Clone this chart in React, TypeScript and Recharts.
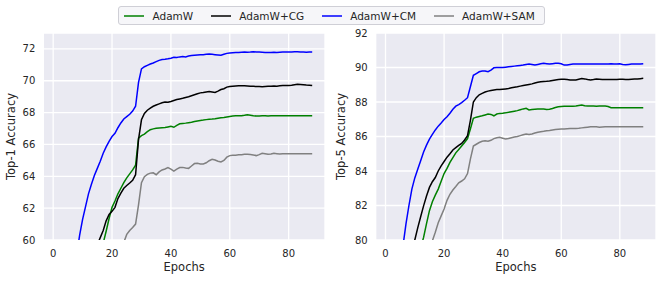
import { LineChart, Line, XAxis, YAxis, CartesianGrid } from "recharts";

const epochs = [
  1, 2, 3, 4, 5, 6, 7, 8, 9, 10, 11, 12, 13, 14, 15, 16, 17, 18, 19, 20,
  21, 22, 23, 24, 25, 26, 27, 28, 29, 30, 31, 32, 33, 34, 35, 36, 37, 38, 39, 40,
  41, 42, 43, 44, 45, 46, 47, 48, 49, 50, 51, 52, 53, 54, 55, 56, 57, 58, 59, 60,
  61, 62, 63, 64, 65, 66, 67, 68, 69, 70, 71, 72, 73, 74, 75, 76, 77, 78, 79, 80,
  81, 82, 83, 84, 85, 86, 87, 88,
];

// top-1 accuracy (left panel)
const top1AdamW = [
  40.0, 43.5, 46.2, 48.5, 50.4, 51.8, 52.9, 53.8, 54.7, 55.5,
  56.3, 57.0, 57.7, 58.3, 58.85, 59.35, 59.8, 60.55, 61.35, 62.05,
  62.45, 62.9, 63.25, 63.6, 63.9, 64.15, 64.4, 64.7, 66.4, 66.55,
  66.65, 66.8, 66.93, 66.98, 67.02, 67.04, 67.05, 67.06, 67.1, 67.14,
  67.08, 67.2, 67.3, 67.32, 67.34, 67.37, 67.4, 67.44, 67.48, 67.51,
  67.53, 67.56, 67.59, 67.6, 67.62, 67.65, 67.68, 67.7, 67.73, 67.76,
  67.78, 67.8, 67.8, 67.81, 67.83, 67.86, 67.84, 67.8, 67.78, 67.79,
  67.8, 67.8, 67.79, 67.8, 67.81, 67.8, 67.8, 67.81, 67.8, 67.8,
  67.8, 67.81, 67.8, 67.8, 67.8, 67.8, 67.8, 67.8,
];
const top1CG = [
  42.0, 45.0, 47.5, 49.5, 51.3, 52.8, 54.1, 55.2, 56.2, 57.0,
  57.7, 58.3, 58.8, 59.3, 59.7, 60.15, 60.6, 61.2, 61.6, 61.8,
  62.05, 62.6, 62.95, 63.25, 63.42, 63.58, 63.75, 64.1, 66.3, 67.55,
  67.95, 68.15, 68.28, 68.4, 68.48, 68.55, 68.62, 68.66, 68.65, 68.7,
  68.76, 68.82, 68.86, 68.9, 68.95, 69.0, 69.06, 69.12, 69.18, 69.24,
  69.26, 69.3, 69.33, 69.3, 69.27, 69.35, 69.45, 69.5, 69.6, 69.64,
  69.66, 69.67, 69.68, 69.68, 69.68, 69.67, 69.66, 69.65, 69.64, 69.64,
  69.63, 69.64, 69.65, 69.66, 69.67, 69.66, 69.68, 69.7, 69.7, 69.71,
  69.72, 69.75, 69.78, 69.77, 69.75, 69.73, 69.72, 69.7,
];
const top1CM = [
  45.0, 48.5, 51.0, 53.0, 54.8, 56.4, 57.8, 59.1, 60.3, 61.3,
  62.1, 62.9, 63.5, 64.05, 64.5, 64.95, 65.45, 65.85, 66.2, 66.5,
  66.7, 67.05, 67.35, 67.6, 67.75, 67.9, 68.1, 68.4, 69.9, 70.75,
  70.88, 70.97, 71.05, 71.12, 71.2, 71.28, 71.33, 71.35, 71.38, 71.42,
  71.48, 71.46, 71.5, 71.52, 71.5, 71.55, 71.58, 71.6, 71.62, 71.64,
  71.63, 71.66, 71.68, 71.66, 71.64, 71.62, 71.6, 71.66, 71.72, 71.75,
  71.76, 71.77, 71.78, 71.79, 71.8, 71.79, 71.8, 71.82, 71.81, 71.8,
  71.79, 71.78, 71.78, 71.77, 71.79, 71.78, 71.79, 71.8, 71.8, 71.8,
  71.81, 71.82, 71.83, 71.81, 71.8, 71.79, 71.8, 71.8,
];
const top1SAM = [
  42.0, 44.5, 46.5, 48.2, 49.7, 51.0, 52.1, 53.1, 54.0, 54.8,
  55.5, 56.1, 56.6, 57.0, 57.4, 57.75, 58.05, 58.35, 58.6, 58.85,
  59.1, 59.35, 59.6, 59.85, 60.35, 60.6, 60.78, 61.0, 62.2, 63.6,
  63.98, 64.12, 64.2, 64.22, 64.1, 64.28, 64.4, 64.46, 64.55, 64.45,
  64.33, 64.45, 64.55, 64.56, 64.52, 64.5, 64.65, 64.8, 64.82, 64.78,
  64.78, 64.85, 64.98, 65.07, 65.02, 64.95, 64.9, 65.0, 65.2, 65.3,
  65.32, 65.33, 65.35, 65.36, 65.38, 65.38, 65.37, 65.34, 65.3, 65.36,
  65.45, 65.42, 65.38, 65.4, 65.44, 65.42, 65.4, 65.41, 65.42, 65.42,
  65.41, 65.42, 65.42, 65.41, 65.42, 65.42, 65.42, 65.42,
];

// top-5 accuracy (right panel)
const top5AdamW = [
  64.0, 67.0, 69.5, 71.6, 73.4, 74.9, 76.1, 77.1, 77.9, 78.6,
  79.1, 79.55, 80.15, 80.95, 81.7, 82.22, 82.6, 82.95, 83.4, 83.85,
  84.15, 84.5, 84.78, 85.05, 85.25, 85.45, 85.65, 85.88, 86.45, 87.05,
  87.12, 87.16, 87.2, 87.25, 87.3, 87.28, 87.2, 87.3, 87.34, 87.35,
  87.37, 87.4, 87.44, 87.47, 87.5, 87.55, 87.6, 87.63, 87.54, 87.56,
  87.58, 87.59, 87.6, 87.59, 87.57, 87.58, 87.62, 87.68, 87.72, 87.74,
  87.75, 87.75, 87.76, 87.76, 87.77, 87.8, 87.83, 87.78, 87.77, 87.77,
  87.77, 87.76, 87.77, 87.77, 87.77, 87.74, 87.67, 87.67, 87.67, 87.67,
  87.67, 87.67, 87.67, 87.67, 87.67, 87.67, 87.67, 87.67,
];
const top5CG = [
  66.0, 68.8, 71.0, 72.9, 74.5, 75.9, 77.1, 78.2, 79.2, 80.0,
  80.7, 81.35, 81.98, 82.55, 83.05, 83.38, 83.62, 84.0, 84.3, 84.55,
  84.8, 85.0, 85.22, 85.35, 85.48, 85.6, 85.8, 86.05, 86.95, 88.0,
  88.25, 88.42, 88.5, 88.58, 88.63, 88.67, 88.7, 88.72, 88.72, 88.74,
  88.76, 88.78, 88.82, 88.85, 88.88, 88.92, 88.96, 88.99, 89.02, 89.05,
  89.1, 89.14, 89.17, 89.19, 89.2, 89.22, 89.25, 89.28, 89.31, 89.32,
  89.32, 89.3, 89.28, 89.27, 89.28, 89.32, 89.36, 89.34, 89.3, 89.28,
  89.3, 89.33, 89.32, 89.3, 89.3, 89.31, 89.31, 89.3, 89.31, 89.32,
  89.32, 89.31, 89.3, 89.32, 89.34, 89.33, 89.35, 89.37,
];
const top5CM = [
  70.0, 72.5, 74.6, 76.5, 78.2, 79.7, 80.95, 82.0, 82.95, 83.6,
  84.1, 84.6, 85.1, 85.5, 85.85, 86.12, 86.38, 86.6, 86.78, 86.98,
  87.15, 87.35, 87.58, 87.76, 87.85, 87.96, 88.1, 88.25, 88.9, 89.55,
  89.65, 89.75, 89.8, 89.8, 89.76, 89.85, 89.98, 90.0, 90.0, 90.0,
  90.02, 90.04, 90.06, 90.08, 90.1, 90.12, 90.14, 90.18, 90.2, 90.18,
  90.14, 90.18, 90.22, 90.24, 90.22, 90.2, 90.22, 90.24, 90.24, 90.22,
  90.14, 90.15, 90.18, 90.2, 90.2, 90.2, 90.21, 90.2, 90.2, 90.21,
  90.2, 90.2, 90.21, 90.2, 90.2, 90.21, 90.22, 90.2, 90.2, 90.21,
  90.18, 90.16, 90.18, 90.2, 90.21, 90.2, 90.21, 90.22,
];
const top5SAM = [
  62.0, 65.0, 67.5, 69.6, 71.4, 72.9, 74.2, 75.3, 76.2, 77.0,
  77.7, 78.3, 78.8, 79.25, 79.65, 79.95, 80.45, 81.0, 81.4, 81.8,
  82.3, 82.65, 82.9, 83.1, 83.32, 83.42, 83.55, 83.85, 84.7, 85.45,
  85.55, 85.65, 85.72, 85.75, 85.72, 85.78, 85.88, 85.93, 85.95, 85.9,
  85.85, 85.88, 85.93, 85.97, 86.0, 86.05, 86.1, 86.15, 86.12, 86.15,
  86.2, 86.25, 86.28, 86.3, 86.33, 86.35, 86.38, 86.4, 86.42, 86.44,
  86.43, 86.45, 86.47, 86.47, 86.47, 86.48, 86.5, 86.52, 86.54, 86.56,
  86.57, 86.56, 86.54, 86.55, 86.56, 86.56, 86.56, 86.57, 86.57, 86.57,
  86.57, 86.57, 86.57, 86.57, 86.57, 86.57, 86.57, 86.57,
];

const xTicks = [0, 20, 40, 60, 80];
const top1Ticks = [60, 62, 64, 66, 68, 70, 72];
const top5Ticks = [80, 82, 84, 86, 88, 90, 92];

const series = [
  { key: "adamw", name: "AdamW", color: "#008000" },
  { key: "cg", name: "AdamW+CG", color: "#000000" },
  { key: "cm", name: "AdamW+CM", color: "#0000ff" },
  { key: "sam", name: "AdamW+SAM", color: "#808080" },
];

const top1Rows = epochs.map((e, i) => ({
  epoch: e,
  adamw: top1AdamW[i],
  cg: top1CG[i],
  cm: top1CM[i],
  sam: top1SAM[i],
}));
const top5Rows = epochs.map((e, i) => ({
  epoch: e,
  adamw: top5AdamW[i],
  cg: top5CG[i],
  cm: top5CM[i],
  sam: top5SAM[i],
}));

const FONT = "DejaVu Sans";
const TEXT = "#262626";

function Panel({ data, yDomain, yTicks, yLabel, width, yAxisWidth, right, labelOffset }: any) {
  return (
    <LineChart
      width={width}
      height={281}
      data={data}
      margin={{ top: 33, right, bottom: 0, left: 0 }}
    >
      <CartesianGrid fill="#eaeaf2" stroke="#ffffff" strokeWidth={1.3} />
      <XAxis
        dataKey="epoch"
        type="number"
        domain={[-3.35, 92.35]}
        ticks={xTicks}
        axisLine={false}
        tickLine={false}
        tickMargin={3.5}
        height={41}
        tick={{ fill: TEXT, fontSize: 10, fontFamily: FONT }}
        label={{
          value: "Epochs",
          position: "insideBottom",
          offset: 10.5,
          style: { fill: TEXT, fontSize: 11.5, fontFamily: FONT },
        }}
      />
      <YAxis
        type="number"
        domain={yDomain}
        ticks={yTicks}
        allowDataOverflow
        axisLine={false}
        tickLine={false}
        width={yAxisWidth}
        tick={{ fill: TEXT, fontSize: 10, fontFamily: FONT }}
        label={{
          value: yLabel,
          angle: -90,
          position: "insideLeft",
          offset: labelOffset,
          style: { fill: TEXT, fontSize: 11.5, fontFamily: FONT, textAnchor: "middle" },
        }}
      />
      {series.map((s) => (
        <Line
          key={s.key}
          dataKey={s.key}
          name={s.name}
          stroke={s.color}
          strokeWidth={1.5}
          dot={false}
          type="linear"
          isAnimationActive={false}
        />
      ))}
    </LineChart>
  );
}

export default function App() {
  return (
    <div
      style={{
        position: "absolute",
        left: 0,
        top: 0,
        width: 665,
        height: 281,
        background: "#fff",
        fontFamily: FONT,
      }}
    >
      <div style={{ position: "absolute", left: 0, top: 0 }}>
        <Panel
          data={top1Rows}
          yDomain={[60, 73]}
          yTicks={top1Ticks}
          yLabel="Top-1 Accuracy"
          width={330}
          yAxisWidth={43.3}
          right={5}
          labelOffset={10.8}
        />
      </div>
      <div style={{ position: "absolute", left: 330, top: 0 }}>
        <Panel
          data={top5Rows}
          yDomain={[80, 92]}
          yTicks={top5Ticks}
          yLabel="Top-5 Accuracy"
          width={335}
          yAxisWidth={45.7}
          right={9}
          labelOffset={11.4}
        />
      </div>
      <div
        style={{
          position: "absolute",
          left: 118,
          top: 6,
          width: 427,
          height: 19,
          boxSizing: "border-box",
          border: "1px solid #cfcfd6",
          borderRadius: 3,
          background: "#f6f6f9",
          display: "flex",
          alignItems: "center",
          paddingLeft: 5,
          fontSize: 10.5,
          color: TEXT,
          whiteSpace: "nowrap",
        }}
      >
        {series.map((s) => (
          <div key={s.key} style={{ display: "flex", alignItems: "center", marginRight: 17.5 }}>
            <svg width={20} height={6} style={{ marginRight: 8.5, display: "block" }}>
              <line x1={0} y1={3} x2={20} y2={3} stroke={s.color} strokeWidth={1.5} />
            </svg>
            <span>{s.name}</span>
          </div>
        ))}
      </div>
    </div>
  );
}
